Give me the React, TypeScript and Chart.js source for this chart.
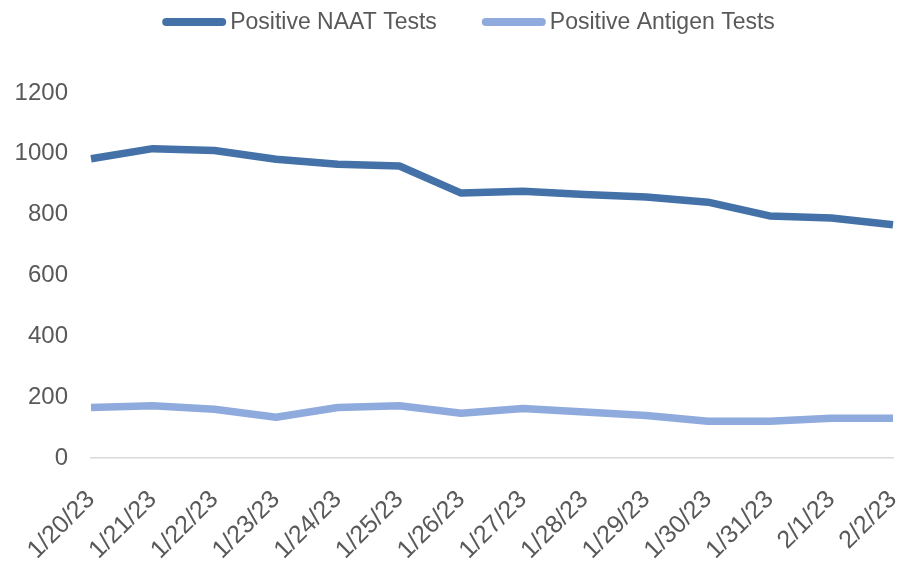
import React, { useEffect, useRef } from 'react';
import { Chart, registerables } from 'chart.js';

Chart.register(...registerables);

const categories = [
  '1/20/23', '1/21/23', '1/22/23', '1/23/23', '1/24/23', '1/25/23', '1/26/23',
  '1/27/23', '1/28/23', '1/29/23', '1/30/23', '1/31/23', '2/1/23', '2/2/23',
];
const naatValues = [984, 1017, 1011, 982, 966, 960, 871, 877, 866, 858, 841, 796, 789, 767];
const antigenValues = [166, 172, 160, 134, 166, 172, 147, 163, 151, 140, 121, 121, 131, 131];
const yTickValues = [0, 200, 400, 600, 800, 1000, 1200];

const seriesLabels = ['Positive NAAT Tests', 'Positive Antigen Tests'];
const seriesColors = ['#4472A8', '#8FAADC'];

const FONT = "'Liberation Sans', Arial, sans-serif";
const TEXT = '#595959';

const legendPlugin = {
  id: 'customLegend',
  afterDraw(chart: any) {
    const ctx = chart.ctx as CanvasRenderingContext2D;
    ctx.save();
    ctx.font = `23px ${FONT}`;
    const boxW = 64;
    const gapBox = 4;
    const gapItem = 45;
    const items = chart.data.datasets.map((ds: any) => ({
      label: ds.label,
      color: ds.borderColor,
      w: ctx.measureText(ds.label).width,
    }));
    const total =
      items.reduce((s: number, it: any) => s + boxW + gapBox + it.w, 0) + gapItem * (items.length - 1);
    let x = chart.width / 2 + 20 - total / 2;
    const y = 22;
    for (const it of items) {
      ctx.strokeStyle = it.color;
      ctx.lineWidth = 8;
      ctx.lineCap = 'round';
      ctx.beginPath();
      ctx.moveTo(x + 4, y);
      ctx.lineTo(x + boxW - 4, y);
      ctx.stroke();
      ctx.fillStyle = TEXT;
      ctx.textBaseline = 'middle';
      ctx.textAlign = 'left';
      ctx.fillText(it.label, x + boxW + gapBox, y + 1);
      x += boxW + gapBox + it.w + gapItem;
    }
    ctx.restore();
  },
};

export default function App() {
  const canvasRef = useRef<HTMLCanvasElement | null>(null);

  useEffect(() => {
    document.body.style.margin = '0';
    const canvas = canvasRef.current;
    if (!canvas) return;
    const chart = new Chart(canvas, {
      type: 'line',
      data: {
        labels: categories,
        datasets: [
          {
            label: seriesLabels[0],
            data: naatValues,
            borderColor: seriesColors[0],
            backgroundColor: seriesColors[0],
            borderWidth: 7.5,
            pointRadius: 0,
            tension: 0,
            borderJoinStyle: 'round',
            borderCapStyle: 'butt',
          },
          {
            label: seriesLabels[1],
            data: antigenValues,
            borderColor: seriesColors[1],
            backgroundColor: seriesColors[1],
            borderWidth: 7.5,
            pointRadius: 0,
            tension: 0,
            borderJoinStyle: 'round',
            borderCapStyle: 'butt',
          },
        ],
      },
      options: {
        animation: false,
        responsive: false,
        maintainAspectRatio: false,
        layout: { padding: { top: 93, left: 0, right: 4, bottom: 0 } },
        plugins: {
          legend: { display: false },
          tooltip: { enabled: false },
        },
        scales: {
          x: {
            offset: false,
            grid: { display: false, drawTicks: false },
            border: { display: true, color: '#D9D9D9', width: 1.5 },
            ticks: {
              color: TEXT,
              font: { family: FONT, size: 25 },
              maxRotation: 45,
              minRotation: 45,
              autoSkip: false,
              padding: 27,
            },
            afterFit: (axis: any) => {
              axis.height = 118;
              axis.paddingLeft = 0;
              axis.paddingRight = 0;
            },
          },
          y: {
            min: 0,
            max: 1200,
            afterBuildTicks: (axis: any) => {
              axis.ticks = yTickValues.map((v) => ({ value: v }));
            },
            grid: { display: false, drawTicks: false },
            border: { display: false },
            ticks: {
              color: TEXT,
              font: { family: FONT, size: 24 },
              padding: 23,
              callback: (v: any) => String(v),
            },
            afterFit: (axis: any) => {
              axis.width = 91;
              axis.paddingTop = 0;
              axis.paddingBottom = 0;
            },
          },
        },
      },
      plugins: [legendPlugin],
    });
    return () => chart.destroy();
  }, []);

  return (
    <div style={{ width: 897, height: 576 }}>
      <canvas ref={canvasRef} width={897} height={576} style={{ display: 'block' }} />
    </div>
  );
}
